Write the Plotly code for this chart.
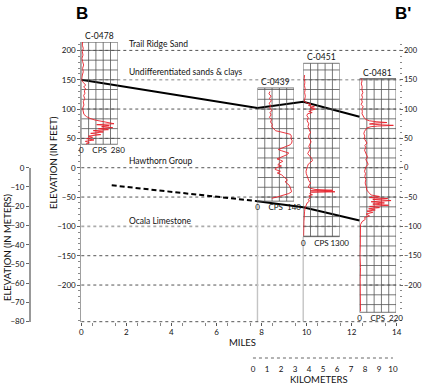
import plotly.graph_objects as go

W, H = 423, 387
FONT = "Lato, DejaVu Sans Condensed, Arial, sans-serif"

# ---------------- data ----------------
mile_ticks = [0, 2, 4, 6, 8, 10, 12, 14]
km_ticks = list(range(0, 11))
ft_ticks = [200, 150, 100, 50, 0, -50, -100, -150, -200]
m_ticks = [0, -10, -20, -30, -40, -50, -60, -70, -80]

well_names = ["C-0478", "C-0439", "C-0451", "C-0481"]
well_miles = [0.0, 7.82, 9.85, 12.35]
box_top_ft = [214, 136, 178, 152]
box_bot_ft = [40, -57, -117.5, -246.5]
cps_max = [280, 140, 1300, 220]
box_width_mi = 1.62

log_0478_elev = [215, 209, 203.5, 198, 192, 186.5, 181, 175, 169.5, 163.5, 158, 152.5, 149.5, 145.5,
                 141, 137.5, 134, 131, 127, 123, 118, 112.5, 107, 101, 95.5, 91, 87, 84, 81.3, 79,
                 76.8, 75, 73.4, 71.7, 70, 68.3, 66.6, 64.9, 63.2, 61, 58.6, 56.4, 54, 51.8, 49.5,
                 47.3, 45, 42.7, 40.5]
log_0478_cps = [10, 8, 15, 8, 13, 5, 10, 18, 10, 15, 8, 3, 2, 15,
                33, 18, 36, 23, 28, 18, 26, 15, 20, 10, 15, 20, 41, 67, 105, 156,
                195, 251, 118, 215, 156, 241, 131, 208, 92, 169, 72, 149, 54, 87, 41,
                97, 31, 61, 36]

log_0439_elev = [130, 126, 122, 118, 114, 110, 106, 102, 98, 94, 90, 86, 82, 78, 74, 70, 66, 63,
                 61, 59, 57, 54, 50, 46, 42, 39, 36, 34, 31, 29, 27, 25, 22, 19, 17, 15, 13, 11,
                 8, 5, 3, 0, -3, -6, -9, -12, -15, -18, -21, -24, -27, -30, -34, -38, -41, -44,
                 -47, -50, -52]
log_0439_cps = [48, 44, 52, 46, 53, 45, 50, 47, 55, 48, 52, 46, 54, 50, 57, 55, 63, 70,
                90, 112, 126, 130, 128, 133, 131, 125, 110, 95, 80, 92, 108, 120, 112, 95, 82, 75, 88, 97,
                85, 78, 92, 72, 68, 88, 76, 92, 100, 110, 115, 106, 114, 122, 126, 130, 131, 120,
                100, 75, 55]

log_0451_elev = [158, 152, 146, 140, 134, 128, 122, 117, 113, 110, 108, 106, 104, 102, 100, 98, 96,
                 94, 92, 89, 85, 80, 75, 70, 65, 60, 56, 52, 48, 44, 40, 36, 32, 28, 24, 20, 16,
                 12, 9, 6, 2, -2, -6, -10, -14, -18, -22, -26, -30, -33, -35, -37, -38.5, -39.5,
                 -41, -42, -44, -46, -48, -51, -54, -57, -60, -64, -68, -74, -82, -92, -104, -116]
log_0451_cps = [50, 35, 60, 45, 70, 50, 75, 60, 40, 150, 280, 190, 400, 250, 430, 300, 200,
                320, 160, 130, 180, 140, 200, 170, 230, 260, 210, 190, 240, 280, 230, 200, 250, 190, 160, 230, 300,
                330, 240, 180, 150, 120, 100, 110, 140, 170, 200, 260, 220, 180, 250, 420, 1050, 250,
                1130, 300, 230, 330, 200, 260, 180, 220, 140, 90, 70, 50, 30, 25, 20, 15]

log_0481_elev = [152, 148, 143, 138, 133, 128, 124, 120, 116, 112, 108, 104, 100, 96, 92, 88, 85,
                 82, 80, 78.5, 77, 76, 74.5, 73, 72.2, 71, 70, 68, 65, 62, 58, 54, 50, 46, 42, 38,
                 34, 30, 26, 22, 18, 14, 10, 6, 2, -2, -6, -10, -15, -20, -26, -32, -38, -42,
                 -46.5, -49, -51, -52.5, -54, -56, -58, -60, -62, -64, -66, -68, -70, -72, -74,
                 -76, -79, -82, -85, -88, -92, -97, -110, -130, -150, -170, -190, -210, -230, -245]
log_0481_cps = [12, 15, 11, 16, 14, 20, 13, 18, 12, 17, 10, 22, 14, 17, 15, 20, 28,
                40, 60, 100, 165, 90, 60, 140, 204, 110, 70, 45, 35, 30, 26, 32, 28, 38, 45, 32,
                38, 30, 36, 42, 48, 38, 45, 52, 40, 33, 30, 36, 32, 38, 34, 40, 44, 55,
                70, 120, 60, 170, 80, 190, 70, 150, 80, 175, 60, 120, 55, 95, 45,
                80, 40, 60, 30, 35, 15, 6, 4, 5, 3, 6, 4, 5, 3, 6]

logs_elev = [log_0478_elev, log_0439_elev, log_0451_elev, log_0481_elev]
logs_cps = [log_0478_cps, log_0439_cps, log_0451_cps, log_0481_cps]

top_surface_mi = [0, 7.82, 9.85, 12.35]
top_surface_ft = [150, 102, 112.5, 87]
base_inferred_mi = [1.35, 7.82]
base_inferred_ft = [-30, -57]
base_mi = [7.82, 9.85, 12.35]
base_ft = [-57, -67.5, -90]

unit_labels = ["Trail Ridge Sand", "Undifferentiated sands & clays", "Hawthorn Group", "Ocala Limestone"]
unit_label_ft = [211.7, 163.7, 11.4, -90.4]
unit_label_mi = 2.03
km_start_mi = 7.62

# ---------------- frame (pixel calibration) ----------------
X_LEFT_PX, X_RIGHT_PX = 81.3, 396.7
Y_TOP_PX, Y_BOT_PX = 41.9, 321.7
FT_TOP, FT_BOT = 214.5, -262.5
MI_MAX = 14


def fx(px):
    return px / W


def fy(py):
    return 1 - py / H


def ft_to_py(ft):
    return Y_TOP_PX + (FT_TOP - ft) * (Y_BOT_PX - Y_TOP_PX) / (FT_TOP - FT_BOT)


def mi_to_px(mi):
    return X_LEFT_PX + mi * (X_RIGHT_PX - X_LEFT_PX) / MI_MAX


fig = go.Figure()
shapes = []
annotations = []

tickfont = dict(family=FONT, size=8, color="#111")
rtickfont = dict(family=FONT, size=7.5, color="#111")
labfont = dict(family=FONT, size=8.5, color="#111")

# major horizontal gridlines
for v in ft_ticks:
    light = v in (150, -100)
    shapes.append(dict(type="line", xref="paper", yref="y", x0=fx(X_LEFT_PX), x1=fx(401), y0=v, y1=v,
                       line=dict(color="#ababab" if light else "#555", width=1.6 if light else 1, dash="dot"),
                       layer="below"))

# bottom axis line (dotted)
shapes.append(dict(type="line", xref="paper", yref="paper", x0=fx(X_LEFT_PX), x1=fx(X_RIGHT_PX),
                   y0=fy(Y_BOT_PX), y1=fy(Y_BOT_PX), line=dict(color="#555", width=1, dash="dot")))

# km scale line
km_end_mi = km_start_mi + 10 / 1.609344
shapes.append(dict(type="line", xref="paper", yref="paper", x0=fx(mi_to_px(km_start_mi)),
                   x1=fx(mi_to_px(km_end_mi)), y0=fy(358), y1=fy(358),
                   line=dict(color="#666", width=1, dash="dot")))

# well logs
for i, name in enumerate(well_names):
    ax = f"x{2 + i}"
    top, bot, cmax = box_top_ft[i], box_bot_ft[i], cps_max[i]
    if i in (1, 2):
        shapes.append(dict(type="line", xref="x", yref="y", x0=well_miles[i], x1=well_miles[i],
                           y0=bot, y1=FT_BOT, line=dict(color="#c4c4c4", width=1.4), layer="below"))
    for k in range(6):
        shapes.append(dict(type="line", xref=ax, yref="y", x0=cmax * k / 5, x1=cmax * k / 5,
                           y0=bot, y1=top, line=dict(color="#555", width=0.8), layer="below"))
    step = 50 / 3
    hs = [top, bot]
    k = int(bot // step) + 1
    while k * step < top - 0.5:
        if k * step > bot + 0.5:
            hs.append(k * step)
        k += 1
    for h in hs:
        shapes.append(dict(type="line", xref=ax, yref="y", x0=0, x1=cmax, y0=h, y1=h,
                           line=dict(color="#555", width=0.8), layer="below"))
    fig.add_trace(go.Scatter(x=logs_cps[i], y=logs_elev[i], xaxis=ax, yaxis="y", mode="lines",
                             line=dict(color="#e8202a", width=0.9), hoverinfo="skip", showlegend=False))
    annotations.append(dict(xref=ax, yref="y", x=cmax / 2, y=top, xanchor="center", yanchor="bottom",
                            yshift=-1, text=name, showarrow=False, font=labfont))

# formation boundary lines
fig.add_trace(go.Scatter(x=top_surface_mi, y=top_surface_ft, mode="lines", xaxis="x", yaxis="y",
                         line=dict(color="black", width=2), showlegend=False, hoverinfo="skip"))
fig.add_trace(go.Scatter(x=base_inferred_mi, y=base_inferred_ft, mode="lines", xaxis="x", yaxis="y",
                         line=dict(color="black", width=2, dash="5px,3px"), showlegend=False, hoverinfo="skip"))
fig.add_trace(go.Scatter(x=base_mi, y=base_ft, mode="lines", xaxis="x", yaxis="y",
                         line=dict(color="black", width=2), showlegend=False, hoverinfo="skip"))

# dummy traces so extra axes are drawn
fig.add_trace(go.Scatter(x=[None], y=[None], xaxis="x", yaxis="y2", showlegend=False))
fig.add_trace(go.Scatter(x=[None], y=[None], xaxis="x", yaxis="y3", showlegend=False))
fig.add_trace(go.Scatter(x=[None], y=[None], xaxis="x6", yaxis="y", showlegend=False))

for lab, v in zip(unit_labels, unit_label_ft):
    annotations.append(dict(xref="x", yref="y", x=unit_label_mi, y=v, xanchor="left", yanchor="middle",
                            text=lab, showarrow=False, font=labfont))


def paper_label(px, py, text, font, angle=0):
    return dict(xref="paper", yref="paper", x=fx(px), y=fy(py), xanchor="center", yanchor="middle",
                text=text, textangle=angle, showarrow=False, font=font)


title_font = dict(family="Liberation Sans, Arial, sans-serif", size=17, color="black")
axis_title_font = dict(family=FONT, size=9.5, color="#111")
annotations += [
    paper_label(82, 13, "<b>B</b>", title_font),
    paper_label(403, 13, "<b>B'</b>", title_font),
    paper_label(53, 162, "ELEVATION (IN FEET)", axis_title_font, -90),
    paper_label(8, 248, "ELEVATION (IN METERS)", axis_title_font, -90),
    paper_label(242, 342, "MILES", axis_title_font),
    paper_label(319, 379, "KILOMETERS", axis_title_font),
]

minor_ft = [v for v in range(-260, 211, 10) if v % 50 != 0]

common = dict(showgrid=False, zeroline=False, automargin=False)

layout = dict(
    width=W, height=H, autosize=False,
    margin=dict(l=0, r=0, t=0, b=0, pad=0, autoexpand=False),
    paper_bgcolor="white", plot_bgcolor="rgba(0,0,0,0)",
    showlegend=False, hovermode=False,
    shapes=shapes, annotations=annotations,
    xaxis=dict(domain=[fx(X_LEFT_PX), fx(X_RIGHT_PX)], range=[0, MI_MAX], anchor="y",
               tickmode="array", tickvals=mile_ticks, ticks="outside", ticklen=3, tickcolor="#555",
               minor=dict(tickmode="array", tickvals=[v / 2 for v in range(1, 28, 2)], ticks="outside",
                          ticklen=3, tickcolor="#888"),
               showline=False, tickfont=tickfont, tickangle=0, **common),
    yaxis=dict(domain=[fy(Y_BOT_PX), fy(Y_TOP_PX)], range=[FT_BOT, FT_TOP], anchor="x",
               tickmode="array", tickvals=ft_ticks, ticks="outside", ticklen=3, tickcolor="#666",
               minor=dict(tickmode="array", tickvals=minor_ft, ticks="outside", ticklen=2, tickcolor="#888"),
               showline=True, linecolor="#a0a0a0", linewidth=1, tickfont=tickfont, **common),
    yaxis2=dict(overlaying="y", anchor="free", position=fx(398.5), side="right",
                range=[FT_BOT, FT_TOP], tickmode="array", tickvals=ft_ticks, ticks="outside", ticklen=3,
                tickcolor="#666",
                minor=dict(tickmode="array", tickvals=minor_ft, ticks="outside", ticklen=2, tickcolor="#888"),
                showline=False, tickfont=rtickfont, **common),
    yaxis3=dict(anchor="free", position=fx(30), side="left",
                domain=[fy(ft_to_py(-80 / 0.3048)), fy(ft_to_py(0))], range=[-80, 0],
                tickmode="array", tickvals=m_ticks, ticks="outside", ticklen=3, tickcolor="#666",
                showline=True, linecolor="#999", linewidth=2, tickfont=tickfont, **common),
    xaxis6=dict(anchor="free", position=fy(358),
                domain=[fx(mi_to_px(km_start_mi)), fx(mi_to_px(km_end_mi))], range=[0, 10],
                tickmode="array", tickvals=km_ticks, ticks="outside", ticklen=3, tickangle=0,
                tickcolor="rgba(0,0,0,0)", showline=False, tickfont=tickfont, **common),
)

for i in range(4):
    cmax = cps_max[i]
    layout[f"xaxis{2 + i}"] = dict(
        anchor="free", position=fy(ft_to_py(box_bot_ft[i])),
        domain=[fx(mi_to_px(well_miles[i])), fx(mi_to_px(well_miles[i] + box_width_mi))],
        range=[0, cmax], tickmode="array", tickvals=[0, cmax / 2, cmax], tickangle=0,
        ticktext=["0", "CPS", str(cmax)], ticks="", showline=False, tickfont=tickfont, **common)

fig.update_layout(**layout)
fig.write_html("out.html", config={"displayModeBar": False, "staticPlot": True},
               post_script="document.body.style.margin='0';document.body.style.padding='0';")
